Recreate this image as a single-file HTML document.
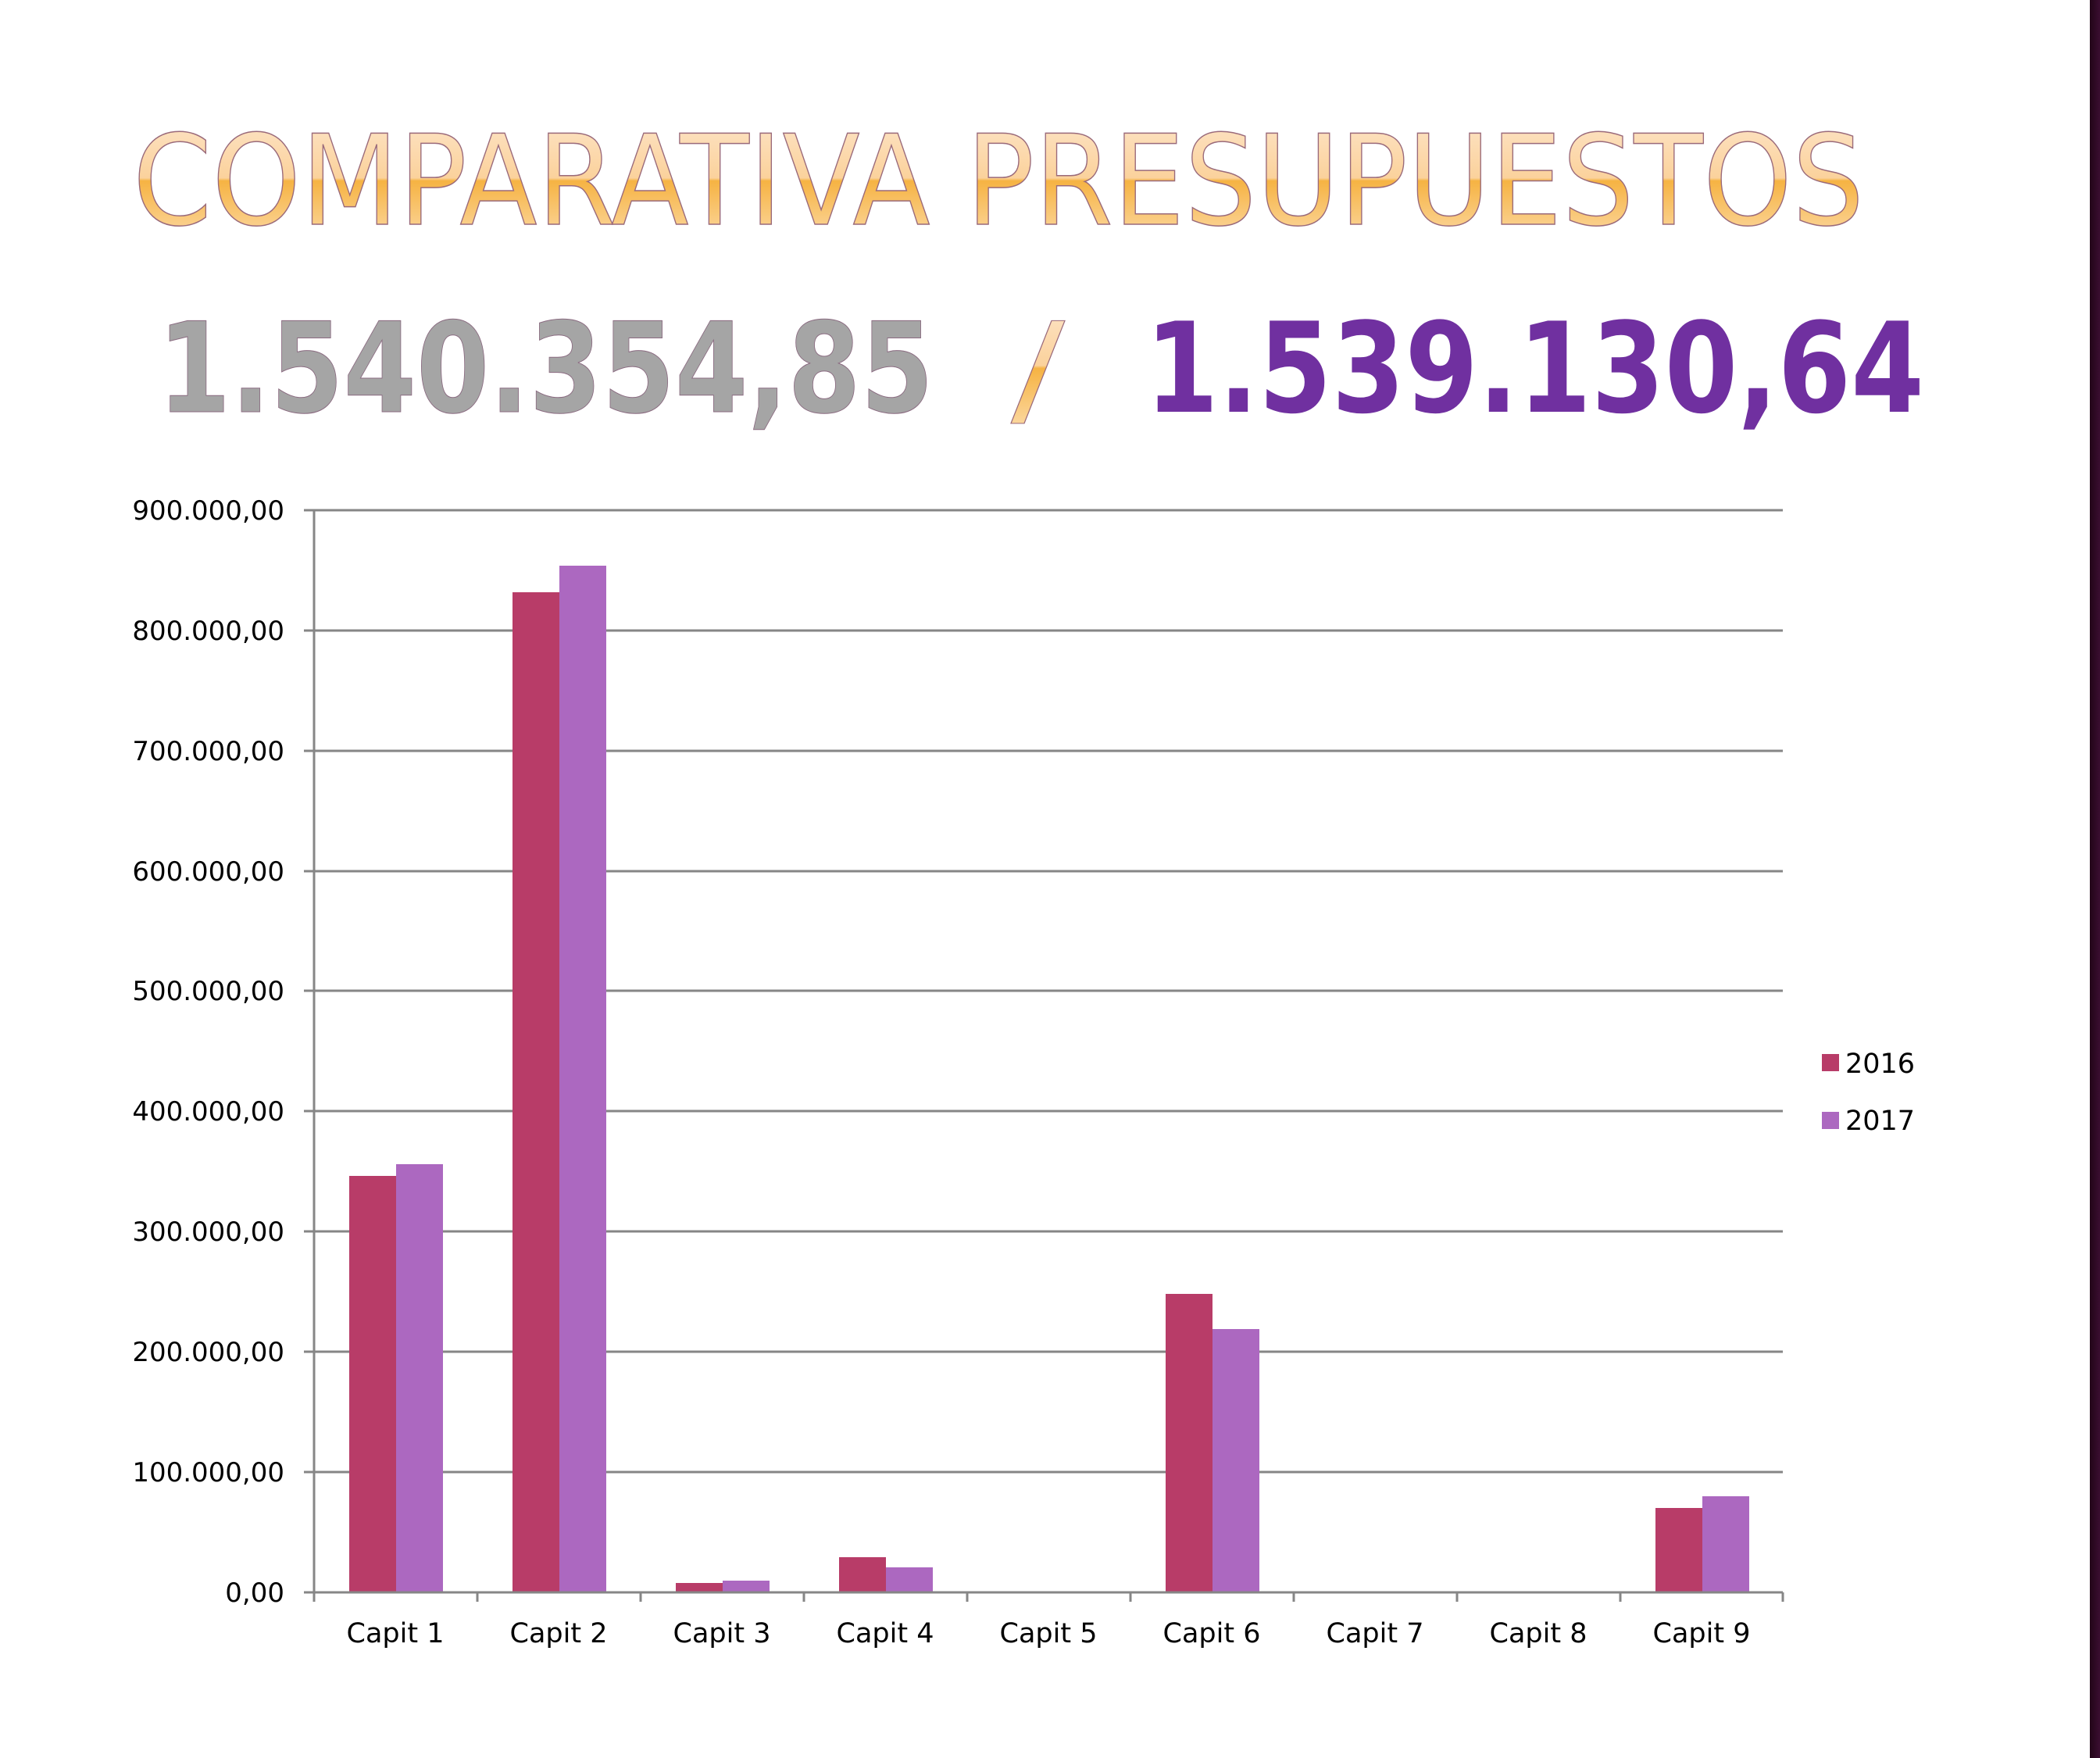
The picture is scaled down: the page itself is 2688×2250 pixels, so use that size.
<!DOCTYPE html>
<html><head><meta charset="utf-8"><style>
html,body{margin:0;padding:0;background:#fff;}
svg{display:block;}
text{font-family:"DejaVu Sans","Liberation Sans",sans-serif;}
</style></head><body>
<svg width="2688" height="2250" viewBox="0 0 2688 2250" xmlns="http://www.w3.org/2000/svg">
<defs>
<linearGradient id="og" x1="0" y1="0" x2="0" y2="1">
<stop offset="0" stop-color="#fde6cc"/><stop offset="0.48" stop-color="#fbd29c"/>
<stop offset="0.5" stop-color="#f6b343"/><stop offset="1" stop-color="#fde1b8"/>
</linearGradient>
<linearGradient id="bar" x1="0" y1="0" x2="1" y2="0">
<stop offset="0" stop-color="#220518"/><stop offset="1" stop-color="#3a0d30"/>
</linearGradient>
</defs>
<rect x="2675" y="0" width="13" height="2250" fill="url(#bar)"/>
<text x="170" y="287" font-size="160" textLength="2216" lengthAdjust="spacingAndGlyphs" fill="url(#og)" stroke="#9a6a7a" stroke-width="1.5">COMPARATIVA  PRESUPUESTOS</text>
<text x="202" y="527" font-size="160" font-weight="bold" textLength="993" lengthAdjust="spacingAndGlyphs" fill="#a5a5a5" stroke="#8a6a80" stroke-width="1">1.540.354,85</text>
<text x="1294" y="527" font-size="160" textLength="69" lengthAdjust="spacingAndGlyphs" fill="url(#og)" stroke="#9a6a7a" stroke-width="1">/</text>
<text x="1466" y="527" font-size="160" font-weight="bold" textLength="997" lengthAdjust="spacingAndGlyphs" fill="#7030a0">1.539.130,64</text>
<g stroke="#868686" stroke-width="3">
<line x1="389" y1="653" x2="2282" y2="653"/>
<line x1="389" y1="807" x2="2282" y2="807"/>
<line x1="389" y1="961" x2="2282" y2="961"/>
<line x1="389" y1="1115" x2="2282" y2="1115"/>
<line x1="389" y1="1268" x2="2282" y2="1268"/>
<line x1="389" y1="1422" x2="2282" y2="1422"/>
<line x1="389" y1="1576" x2="2282" y2="1576"/>
<line x1="389" y1="1730" x2="2282" y2="1730"/>
<line x1="389" y1="1884" x2="2282" y2="1884"/>
</g>
<g>
<rect x="447" y="1505" width="60" height="533" fill="#b83c68"/><rect x="507" y="1490" width="60" height="548" fill="#ac68c0"/>
<rect x="656" y="758" width="60" height="1280" fill="#b83c68"/><rect x="716" y="724" width="60" height="1314" fill="#ac68c0"/>
<rect x="865" y="2026" width="60" height="12" fill="#b83c68"/><rect x="925" y="2023" width="60" height="15" fill="#ac68c0"/>
<rect x="1074" y="1993" width="60" height="45" fill="#b83c68"/><rect x="1134" y="2006" width="60" height="32" fill="#ac68c0"/>
<rect x="1492" y="1656" width="60" height="382" fill="#b83c68"/><rect x="1552" y="1701" width="60" height="337" fill="#ac68c0"/>
<rect x="2119" y="1930" width="60" height="108" fill="#b83c68"/><rect x="2179" y="1915" width="60" height="123" fill="#ac68c0"/>
</g>
<g stroke="#868686" stroke-width="3">
<line x1="389" y1="2038" x2="2282" y2="2038"/>
<line x1="402" y1="653" x2="402" y2="2050"/>
<line x1="611" y1="2038" x2="611" y2="2050"/><line x1="820" y1="2038" x2="820" y2="2050"/>
<line x1="1029" y1="2038" x2="1029" y2="2050"/><line x1="1238" y1="2038" x2="1238" y2="2050"/>
<line x1="1447" y1="2038" x2="1447" y2="2050"/><line x1="1656" y1="2038" x2="1656" y2="2050"/>
<line x1="1865" y1="2038" x2="1865" y2="2050"/><line x1="2074" y1="2038" x2="2074" y2="2050"/>
<line x1="2282" y1="2038" x2="2282" y2="2050"/>
</g>
<g font-size="34" text-anchor="end" fill="#000">
<text x="364" y="665">900.000,00</text><text x="364" y="819">800.000,00</text>
<text x="364" y="973">700.000,00</text><text x="364" y="1127">600.000,00</text>
<text x="364" y="1280">500.000,00</text><text x="364" y="1434">400.000,00</text>
<text x="364" y="1588">300.000,00</text><text x="364" y="1742">200.000,00</text>
<text x="364" y="1896">100.000,00</text><text x="364" y="2050">0,00</text>
</g>
<g font-size="35" text-anchor="middle" fill="#000">
<text x="506" y="2102">Capit 1</text><text x="715" y="2102">Capit 2</text>
<text x="924" y="2102">Capit 3</text><text x="1133" y="2102">Capit 4</text>
<text x="1342" y="2102">Capit 5</text><text x="1551" y="2102">Capit 6</text>
<text x="1760" y="2102">Capit 7</text><text x="1969" y="2102">Capit 8</text>
<text x="2178" y="2102">Capit 9</text>
</g>
<rect x="2332" y="1349" width="22" height="22" fill="#b83c68"/>
<rect x="2332" y="1423" width="22" height="22" fill="#ac68c0"/>
<text x="2362" y="1373" font-size="35" fill="#000">2016</text>
<text x="2362" y="1446" font-size="35" fill="#000">2017</text>
</svg>
</body></html>
